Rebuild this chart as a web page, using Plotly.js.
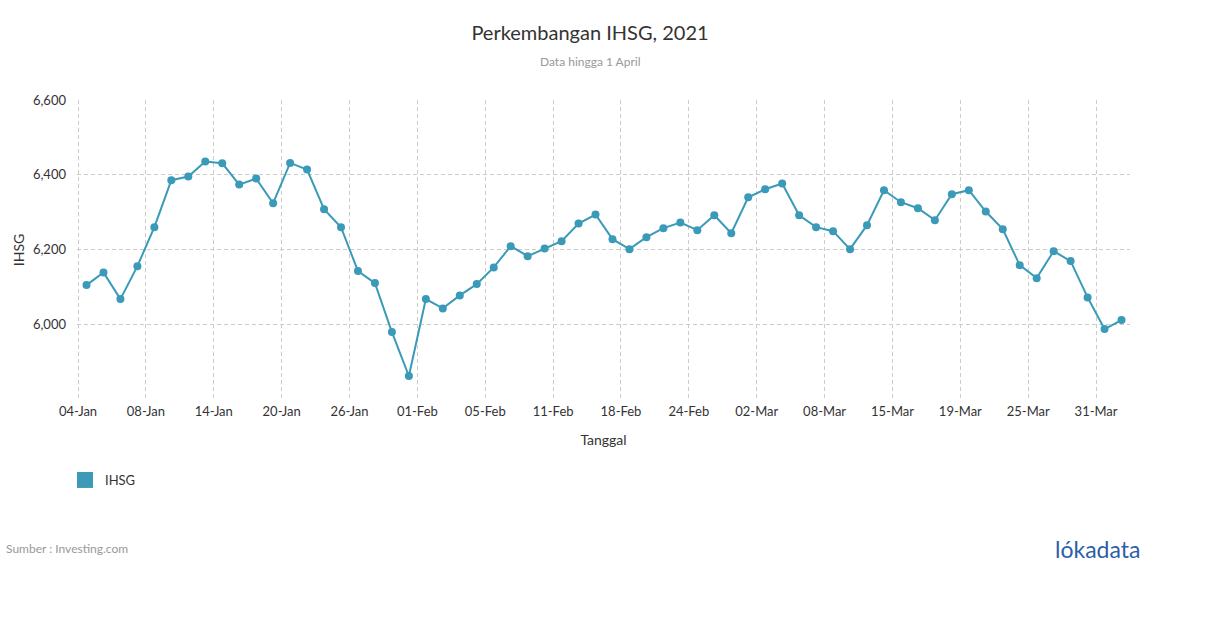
<!DOCTYPE html>
<html>
<head>
<meta charset="utf-8">
<script src="https://cdn.plot.ly/plotly-3.0.1.min.js"></script>
<style>
  html, body { margin: 0; padding: 0; background: #fff; }
  #chart { width: 1210px; height: 628px; }
</style>
</head>
<body>
<div id="chart"></div>
<script>
// Trading days 04-Jan-2021 .. 01-Apr-2021
const dates = [
  "04-Jan","05-Jan","06-Jan","07-Jan","08-Jan","11-Jan","12-Jan","13-Jan","14-Jan","15-Jan",
  "18-Jan","19-Jan","20-Jan","21-Jan","22-Jan","25-Jan","26-Jan","27-Jan","28-Jan","29-Jan",
  "01-Feb","02-Feb","03-Feb","04-Feb","05-Feb","08-Feb","09-Feb","10-Feb","11-Feb","15-Feb",
  "16-Feb","17-Feb","18-Feb","19-Feb","22-Feb","23-Feb","24-Feb","25-Feb","26-Feb","01-Mar",
  "02-Mar","03-Mar","04-Mar","05-Mar","08-Mar","09-Mar","10-Mar","12-Mar","15-Mar","16-Mar",
  "17-Mar","18-Mar","19-Mar","22-Mar","23-Mar","24-Mar","25-Mar","26-Mar","29-Mar","30-Mar",
  "31-Mar","01-Apr"
];
const ihsg = [
  6105.8, 6139.6, 6068.4, 6156.4, 6260.4, 6385.8, 6395.6, 6435.6, 6431.1, 6374.2,
  6390.2, 6324.4, 6432.0, 6414.2, 6308.4, 6260.4, 6143.1, 6111.1, 5980.4, 5863.1,
  6068.4, 6043.6, 6078.2, 6108.4, 6152.9, 6209.8, 6183.1, 6203.6, 6223.1, 6270.2,
  6294.2, 6228.4, 6201.8, 6233.8, 6257.8, 6272.9, 6252.4, 6292.4, 6244.4, 6340.4,
  6361.8, 6376.9, 6292.4, 6260.4, 6249.8, 6201.8, 6265.8, 6359.1, 6327.1, 6311.1,
  6279.1, 6348.4, 6359.1, 6302.2, 6255.1, 6159.1, 6124.4, 6196.4, 6169.8, 6072.9,
  5988.4, 6012.4
];
const xTickLabels = ["04-Jan","08-Jan","14-Jan","20-Jan","26-Jan","01-Feb","05-Feb","11-Feb",
  "18-Feb","24-Feb","02-Mar","08-Mar","15-Mar","19-Mar","25-Mar","31-Mar"];
const yTickVals = [5800, 6000, 6200, 6400, 6600];
const yTickText = ["", "6,000", "6,200", "6,400", "6,600"];

const idx = dates.map((d, i) => i);
// labels sit on category boundaries (half a step before the point)
const xTickVals = xTickLabels.map(l => dates.indexOf(l) - 0.5);

const color = "#3a9ab8";
const font = "Lato, 'Open Sans', sans-serif";

// plot area in pixels: x 77..1130, y 100..400
const PL = 77, PW = 1053, PT = 100, PH = 300;
const px = v => (v - PL) / PW;
const py = v => (PT + PH - v) / PH;

const traces = [
  {
    x: idx, y: ihsg, text: dates, type: "scatter", mode: "lines+markers",
    name: "IHSG", showlegend: false,
    line: { color: color, width: 2 },
    marker: { color: color, size: 8 },
    hovertemplate: "%{text}<br>%{y:,.2f}<extra></extra>"
  },
  {
    x: [null], y: [null], type: "scatter", mode: "markers", name: "IHSG",
    marker: { color: color, size: 16, symbol: "square" },
    showlegend: true, hoverinfo: "skip"
  }
];

const layout = {
  width: 1210, height: 628,
  paper_bgcolor: "#fff", plot_bgcolor: "#fff",
  font: { family: font, color: "#333", size: 13 },
  margin: { l: 77, r: 80, t: 100, b: 228 },
  title: {
    text: "Perkembangan IHSG, 2021",
    font: { family: font, size: 20, color: "#333" },
    x: 590 / 1210, xanchor: "center", xref: "container",
    y: 1 - 33 / 628, yanchor: "middle", yref: "container"
  },
  xaxis: {
    range: [-0.56, 61.5],
    tickmode: "array", tickvals: xTickVals, ticktext: xTickLabels,
    showgrid: true, gridcolor: "#cccccc", griddash: "4px,3px", gridwidth: 1,
    zeroline: false, showline: false, ticks: "",
    ticklabelstandoff: 2,
    tickfont: { size: 13, color: "#333" },
    title: { text: "Tanggal", font: { size: 14, color: "#333" }, standoff: 17 },
    fixedrange: true
  },
  yaxis: {
    range: [5799, 6600],
    tickmode: "array", tickvals: yTickVals, ticktext: yTickText,
    showgrid: true, gridcolor: "#cccccc", griddash: "4px,3px", gridwidth: 1,
    zeroline: false, showline: false, ticks: "",
    ticklabelstandoff: 10,
    tickfont: { size: 13, color: "#333" },
    title: { text: "IHSG", font: { size: 14, color: "#333" }, standoff: 4 },
    fixedrange: true
  },
  showlegend: true,
  legend: {
    x: px(65), xanchor: "left", y: py(480), yanchor: "middle",
    orientation: "h", font: { size: 13, color: "#333" },
    bgcolor: "rgba(0,0,0,0)", itemwidth: 30
  },
  annotations: [
    {
      text: "Data hingga 1 April", xref: "paper", yref: "paper",
      x: px(590), y: py(62), xanchor: "center", yanchor: "middle",
      showarrow: false, font: { family: font, size: 12, color: "#999" }
    },
    {
      text: "Sumber : Investing.com", xref: "paper", yref: "paper",
      x: px(4), y: py(548), xanchor: "left", yanchor: "middle",
      showarrow: false, font: { family: font, size: 12, color: "#999" }
    },
    {
      text: "l<span style='color:#2d5fa6'>ó</span>kadata", xref: "paper", yref: "paper",
      x: px(1142), y: py(549), xanchor: "right", yanchor: "middle",
      showarrow: false, font: { family: font, size: 23, color: "#2d5fa6" }
    }
  ]
};

Plotly.newPlot("chart", traces, layout, { displayModeBar: false, responsive: false });
</script>
</body>
</html>
